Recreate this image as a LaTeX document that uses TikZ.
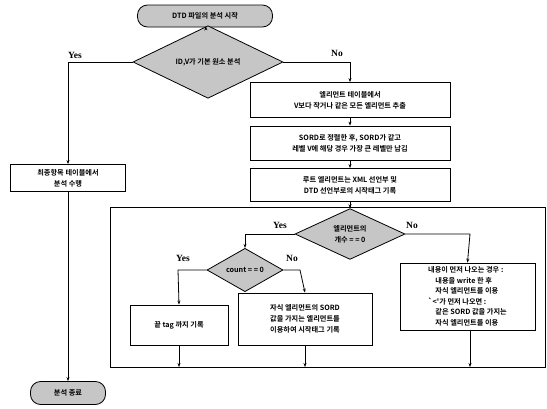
\documentclass[tikz,border=0pt]{standalone}
\usepackage{fontspec}
\newfontfamily\kr{Noto Sans CJK KR}[BoldFont={Noto Sans CJK KR Bold}]
\newfontfamily\lbl{Liberation Serif}
\usetikzlibrary{shapes.geometric,arrows.meta}
\begin{document}
\begin{tikzpicture}[x=1pt,y=-1pt,
  every node/.style={font=\kr\bfseries\fontsize{7.2}{11}\selectfont, inner sep=1pt},
  proc/.style={draw, thick, fill=white, align=center},
  term/.style={draw, thick, fill=gray!45, rounded corners=10pt, align=center},
  dec/.style={draw, thick, fill=gray!45, diamond, inner sep=0pt, align=center},
  yn/.style={font=\lbl\bfseries\fontsize{9.5}{10}\selectfont},
  conn/.style={thick, -{Stealth[length=4pt,width=3pt]}},
  line/.style={thick}]
\useasboundingbox (0,0) rectangle (547,408);
% nodes
\node[term, minimum width=135pt, minimum height=22pt] (start) at (205,16) {DTD 파일의 분석 시작};
\node[dec, minimum width=150pt, minimum height=35pt] (d1) at (208,62) {ID,V가 기본 원소 분석};
\node[proc, minimum width=200pt, minimum height=35pt] (b1) at (350,100) {엘리먼트 테이블에서\\V보다 작거나 같은 모든 엘리먼트 추출};
\node[proc, minimum width=200pt, minimum height=34pt] (b2) at (350,143) {SORD로 정렬한 후, SORD가 같고\\레벨 V에 해당 경우 가장 큰 레벨만 남김};
\node[proc, minimum width=200pt, minimum height=33pt] (b3) at (350,185) {루트 엘리먼트는 XML 선언부 및\\DTD 선언부로의 시작태그 기록};
\node[proc, minimum width=115pt, minimum height=27pt] (lb) at (68,178) {최종항목 테이블에서\\분석 수행};
\node[term, minimum width=75pt, minimum height=23pt] (end) at (68,393) {분석 종료};
\node[dec, minimum width=110pt, minimum height=40pt] (d2) at (350,234) {엘리먼트의\\개수 = = 0};
\node[dec, minimum width=76pt, minimum height=28pt] (d3) at (245,270) {count = = 0};
\node[proc, minimum width=98pt, minimum height=40pt] (bl) at (179,325) {끝 tag 까지 기록};
\node[proc, minimum width=134pt, minimum height=52pt] (bm) at (305,319) {자식 엘리먼트의 SORD\\값을 가지는 엘리먼트를\\이용하여 시작태그 기록};
\node[proc, minimum width=135pt, minimum height=67pt, align=left, font=\kr\bfseries\fontsize{7.2}{10.5}\selectfont] (br) at (467.5,296.5) {내용이 먼저 나오는 경우 :\\\quad 내용을 write 한 후\\\quad 자식 엘리먼트를 이용\\`<'가 먼저 나오면 :\\\quad 같은 SORD 값을 가지는\\\quad 자식 엘리먼트를 이용};
% coordinates
\coordinate (d1l) at (68,62);
\coordinate (d1r) at (350,62);
\coordinate (tl) at (110,207);
\coordinate (tr) at (545,207);
\coordinate (bL) at (110,367);
\coordinate (bR) at (545,367);
\coordinate (d2l) at (245,234);
\coordinate (d2r) at (470,234);
\coordinate (d3l) at (178,270);
\coordinate (d3r) at (300,270);
\coordinate (top2) at (350,207);
\coordinate (blb) at (179,367);
\coordinate (bmb) at (305,367);
\coordinate (brb) at (470,367);
% connectors
\draw[conn] (start) -- (d1);
\draw[conn] (d1.west) -- (d1l) -- (lb.north);
\draw[conn] (d1.east) -- (d1r) -- (b1.north);
\draw[conn] (b1) -- (b2);
\draw[conn] (b2) -- (b3);
\draw[conn] (lb.south) -- (end.north);
\draw[line] (b3.south) -- (top2);
\draw[conn] (tl) -- (top2) -- (d2.north);
\draw[line] (top2) -- (tr) -- (bR) -- (bL) -- (tl);
\draw[conn] (d2.west) -- (d2l) -- (d3.north);
\draw[conn] (d2.east) -- (d2r) -- (br.north);
\draw[conn] (d3.west) -- (d3l) -- (bl.north);
\draw[conn] (d3.east) -- (d3r) -- (bm.north);
\draw[conn] (bl.south) -- (blb);
\draw[conn] (bm.south) -- (bmb);
\draw[conn] (br.south -| brb) -- (brb);
% labels
\node[yn] (y1) at (75,55) {Yes};
\node[yn] (n1) at (337,53) {No};
\node[yn] (y2) at (280,225) {Yes};
\node[yn] (n2) at (412,225) {No};
\node[yn] (y3) at (183,258) {Yes};
\node[yn] (n3) at (292,258) {No};
\end{tikzpicture}
\end{document}
